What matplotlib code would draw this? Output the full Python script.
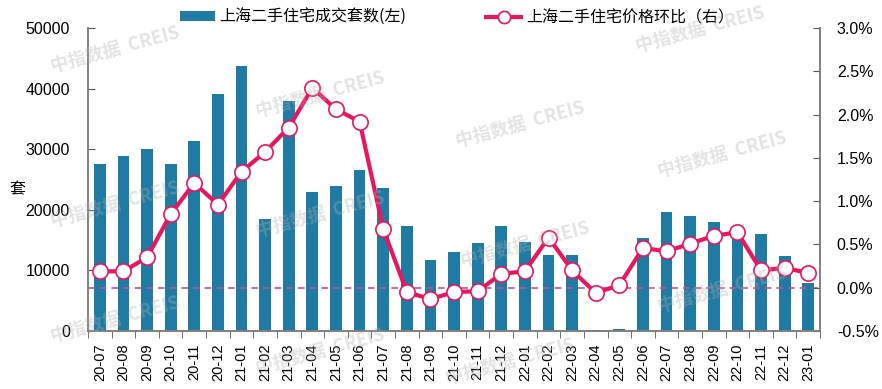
import numpy as np
import matplotlib
matplotlib.use('Agg')
import matplotlib.pyplot as plt
from matplotlib.ticker import FuncFormatter, FixedLocator

plt.rcParams['font.family'] = ['Liberation Sans', 'Noto Sans CJK SC', 'DejaVu Sans']

# data
months = ['20-07', '20-08', '20-09', '20-10', '20-11', '20-12', '21-01', '21-02',
          '21-03', '21-04', '21-05', '21-06', '21-07', '21-08', '21-09', '21-10',
          '21-11', '21-12', '22-01', '22-02', '22-03', '22-04', '22-05', '22-06',
          '22-07', '22-08', '22-09', '22-10', '22-11', '22-12', '23-01']
volume = [27500, 28800, 30100, 27600, 31300, 39100, 43700, 18500,
          37900, 23000, 24000, 26500, 23600, 17300, 11800, 13000,
          14600, 17400, 14700, 12600, 12600, 200, 300, 15400,
          19700, 19000, 18000, 16300, 16000, 12300, 7900]
mom = [0.19, 0.19, 0.35, 0.85, 1.21, 0.96, 1.34, 1.57,
       1.85, 2.31, 2.06, 1.92, 0.68, -0.05, -0.13, -0.05,
       -0.04, 0.16, 0.19, 0.58, 0.20, -0.06, 0.03, 0.46,
       0.42, 0.51, 0.60, 0.64, 0.20, 0.23, 0.17]

bar_color = '#1f7ba3'
line_color = '#e8175d'

fig = plt.figure(figsize=(8.82, 3.89), dpi=100)
ax = fig.add_axes([0.0998, 0.149, 0.83, 0.779])
ax2 = ax.twinx()

# watermarks (tiled, faint)
wm_pos = [(115, 50), (320, 95), (520, 125), (722, 155), (700, 30),
          (115, 205), (320, 215), (525, 245), (722, 290),
          (115, 320), (320, 352), (510, 362)]
for px, py in wm_pos:
    fig.text(px / 882, 1 - py / 389, '中指数据  CREIS', color='#b0b0b0', alpha=0.35,
             fontsize=13, fontweight='bold', rotation=15, ha='center', va='center',
             family=['Noto Sans CJK SC', 'DejaVu Sans'], zorder=10)

x = np.arange(len(months))
ax.bar(x, volume, width=0.5, color=bar_color, zorder=2, label='上海二手住宅成交套数(左)')
ax.set_xlim(-0.5, len(months) - 0.5)
ax.set_ylim(0, 50000)
ax.set_yticks(np.arange(0, 50001, 10000))
ax.set_xticks(x)
ax.set_xticklabels(months, rotation=90, fontsize=10.5)
ax.xaxis.set_minor_locator(FixedLocator(np.arange(-0.5, len(months), 1)))
ax.tick_params(axis='x', which='major', length=0, pad=9)
ax.tick_params(axis='x', which='minor', length=5, direction='out', color='#555555')
ax.tick_params(axis='y', direction='in', length=5, labelsize=11.5, color='#555555', pad=13)
ax.set_ylabel('套', rotation=0, fontsize=11.5, family=['Noto Sans CJK SC'], va='center')
ax.yaxis.set_label_coords(-0.097, 0.465)

ax2.axhline(0, color='#c0509a', linestyle=(0, (4, 3)), linewidth=1.2, zorder=1)
ax2.plot(x, mom, color=line_color, linewidth=3, marker='o', markersize=11,
         markerfacecolor='white', markeredgecolor=line_color, markeredgewidth=1.2,
         zorder=3, label='上海二手住宅价格环比（右）')
ax2.set_ylim(-0.5, 3.0)
ax2.set_yticks(np.arange(-0.5, 3.01, 0.5))
ax2.yaxis.set_major_formatter(FuncFormatter(lambda v, p: f'{v:.1f}%'))
ax2.tick_params(axis='y', direction='in', length=5, labelsize=11.5, color='#555555', pad=12)

ax.set_zorder(ax2.get_zorder() - 1)
ax.patch.set_visible(False)
ax2.patch.set_visible(False)

for a in (ax, ax2):
    a.spines['top'].set_visible(False)
    for s in ('left', 'right', 'bottom'):
        a.spines[s].set_color('#808080')
        a.spines[s].set_linewidth(1.2)

h1, l1 = ax.get_legend_handles_labels()
h2, l2 = ax2.get_legend_handles_labels()
fig.legend(h1 + h2, l1 + l2, loc='center', bbox_to_anchor=(0.518, 0.955), ncol=2,
           frameon=False, prop={'family': ['Noto Sans CJK SC'], 'size': 11.5},
           handlelength=2.2, handleheight=0.6, columnspacing=5, handletextpad=0.3,
           markerscale=0.8)

fig.savefig('out.png', dpi=100)
